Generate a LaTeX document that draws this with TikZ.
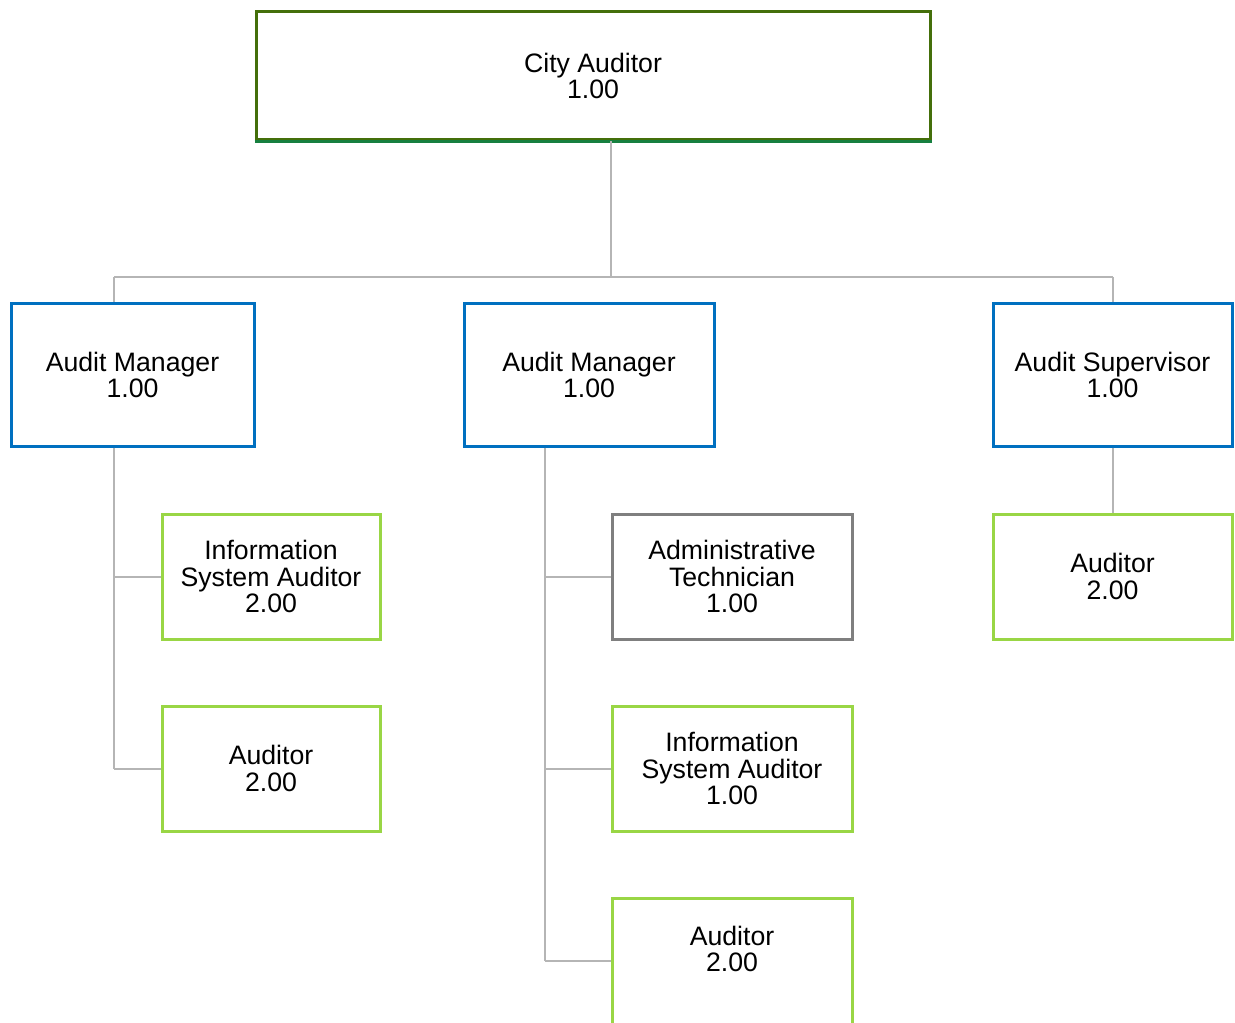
\documentclass[tikz,border=0pt]{standalone}
\usepackage{fontspec}
\setmainfont{Liberation Sans}
\definecolor{olive}{HTML}{446F0A}
\definecolor{topgreen}{HTML}{178040}
\definecolor{mgrblue}{HTML}{0070C0}
\definecolor{staffgreen}{HTML}{99D645}
\definecolor{admgray}{HTML}{7F7F7F}
\definecolor{linegray}{HTML}{B5B5B5}
\begin{document}
\begin{tikzpicture}[x=0.75pt,y=-0.75pt,
    box/.style={draw,line width=2.25pt,inner sep=0pt,align=center,
                font=\fontsize{20pt}{20pt}\selectfont},
    topbox/.style={box,draw=olive,minimum width=505.5pt,minimum height=96pt},
    mgrbox/.style={box,draw=mgrblue,minimum height=106.5pt},
    staffbox/.style={box,draw=staffgreen,minimum height=93.75pt},
    admbox/.style={box,draw=admgray,minimum height=93.75pt},
    link/.style={draw=linegray,line width=1.5pt}]
                \useasboundingbox (0,0) rectangle (1235,1023);
                \node [topbox] (ca) at (593,76) {City Auditor\\1.00};
                \draw [topgreen,line width=2.25pt] (ca.south west) -- (ca.south east);
                \node [mgrbox,minimum width=182.25pt] (am1) at (132.5,375) {Audit Manager\\1.00};
                \node [mgrbox,minimum width=187.5pt] (am2) at (589,375) {Audit Manager\\1.00};
                \node [mgrbox,minimum width=179.25pt] (as) at (1112.5,375) {Audit Supervisor\\1.00};
                \node [staffbox,minimum width=163.5pt] (isa1) at (271,576.5) {Information\\System Auditor\\2.00};
                \node [staffbox,minimum width=163.5pt] (aud1) at (271,768.5) {Auditor\\2.00};
                \node [admbox,minimum width=180pt] (adm) at (732,576.5) {Administrative\\Technician\\1.00};
                \node [staffbox,minimum width=180pt] (isa2) at (732,768.5) {Information\\System Auditor\\1.00};
                \node [staffbox,minimum width=180pt,minimum height=150pt] (aud2) at (732,998.5) {};
                \node [align=center,font=\fontsize{20pt}{20pt}\selectfont] (aud2t) at (732,949) {Auditor\\2.00};
                \node [staffbox,minimum width=179.25pt] (aud3) at (1112.5,576.5) {Auditor\\2.00};
                \coordinate (bus) at (611,277);
                \coordinate (busl) at (114,277);
                \coordinate (busr) at (1113,277);
                \coordinate (sp1) at (114,447);
                \coordinate (sp2) at (545,447);
                \coordinate (end2) at (545,961);
                \draw [link] (ca.south -| bus) -- (bus);
                \draw [link] (busl) -- (busr);
                \draw [link] (busl) -- (am1.north -| busl);
                \draw [link] (busr) -- (as.north -| busr);
                \draw [link] (as.south -| busr) -- (aud3.north -| busr);
                \draw [link] (am1.south -| sp1) -- (aud1.west -| sp1);
                \draw [link] (isa1.west -| sp1) -- (isa1.west);
                \draw [link] (aud1.west -| sp1) -- (aud1.west);
                \draw [link] (am2.south -| sp2) -- (end2);
                \draw [link] (adm.west -| sp2) -- (adm.west);
                \draw [link] (isa2.west -| sp2) -- (isa2.west);
                \draw [link] (end2) -- (aud2.west |- end2);
            \end{tikzpicture}
\end{document}
